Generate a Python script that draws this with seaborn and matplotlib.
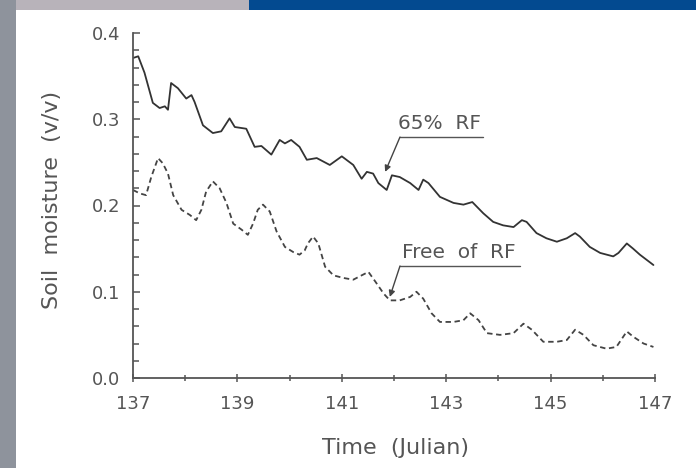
import numpy as np
import pandas as pd
import matplotlib
matplotlib.use("Agg")
import matplotlib.pyplot as plt
from matplotlib.patches import Rectangle
from matplotlib.ticker import MultipleLocator
import seaborn as sns

# ---- data ----
rf65_day = [137.00, 137.10, 137.22, 137.38, 137.51, 137.61, 137.67, 137.73, 137.86, 138.02,
            138.12, 138.18, 138.34, 138.53, 138.69, 138.85, 138.95, 139.17, 139.33, 139.46,
            139.65, 139.81, 139.91, 140.03, 140.19, 140.33, 140.52, 140.77, 141.00, 141.22,
            141.38, 141.48, 141.60, 141.70, 141.86, 141.96, 142.11, 142.31, 142.47, 142.56,
            142.66, 142.88, 143.14, 143.33, 143.50, 143.71, 143.90, 144.09, 144.29, 144.45,
            144.54, 144.73, 144.92, 145.12, 145.31, 145.47, 145.56, 145.75, 145.95, 146.20,
            146.30, 146.46, 146.58, 146.71, 146.84, 146.97]
rf65_val = [0.371, 0.373, 0.354, 0.319, 0.313, 0.315, 0.311, 0.342, 0.336, 0.324,
            0.328, 0.320, 0.293, 0.284, 0.286, 0.301, 0.291, 0.289, 0.268, 0.269,
            0.259, 0.276, 0.272, 0.276, 0.268, 0.253, 0.255, 0.247, 0.257, 0.247,
            0.231, 0.239, 0.237, 0.226, 0.218, 0.235, 0.233, 0.226, 0.218, 0.230,
            0.226, 0.210, 0.203, 0.201, 0.204, 0.191, 0.181, 0.177, 0.175, 0.183,
            0.181, 0.168, 0.162, 0.158, 0.162, 0.168, 0.164, 0.152, 0.145, 0.141,
            0.145, 0.156, 0.150, 0.143, 0.137, 0.131]

free_day = [137.00, 137.13, 137.25, 137.35, 137.48, 137.57, 137.67, 137.77, 137.93, 138.09,
            138.21, 138.31, 138.40, 138.53, 138.66, 138.79, 138.92, 139.08, 139.20, 139.30,
            139.39, 139.49, 139.62, 139.75, 139.91, 140.07, 140.19, 140.29, 140.35, 140.45,
            140.55, 140.68, 140.84, 141.03, 141.22, 141.38, 141.51, 141.64, 141.80, 141.92,
            142.11, 142.31, 142.43, 142.56, 142.72, 142.88, 143.14, 143.33, 143.46, 143.62,
            143.78, 144.03, 144.29, 144.48, 144.64, 144.86, 145.12, 145.31, 145.47, 145.63,
            145.82, 146.07, 146.26, 146.46, 146.58, 146.78, 146.97]
free_val = [0.218, 0.214, 0.212, 0.233, 0.255, 0.249, 0.237, 0.212, 0.195, 0.189,
            0.183, 0.195, 0.216, 0.228, 0.220, 0.203, 0.179, 0.172, 0.166, 0.179,
            0.195, 0.201, 0.193, 0.170, 0.152, 0.146, 0.143, 0.148, 0.156, 0.164,
            0.156, 0.129, 0.119, 0.116, 0.114, 0.119, 0.123, 0.112, 0.098, 0.090,
            0.090, 0.094, 0.100, 0.092, 0.075, 0.065, 0.065, 0.067, 0.075, 0.067,
            0.052, 0.050, 0.052, 0.063, 0.056, 0.042, 0.042, 0.044, 0.056, 0.050,
            0.038, 0.034, 0.036, 0.054, 0.048, 0.040, 0.036]

x_ticks = [137, 139, 141, 143, 145, 147]
y_ticks = [0.0, 0.1, 0.2, 0.3, 0.4]
x_label = "Time  (Julian)"
y_label = "Soil  moisture  (v/v)"
label_rf = "65%  RF"
label_free = "Free  of  RF"

# ---- figure ----
sns.set_theme(style="white")
plt.rcParams['font.family'] = ['DejaVu Sans']

fig = plt.figure(figsize=(6.96, 4.68), dpi=100)
fig.patch.set_facecolor("white")
ax = fig.add_axes([133/696, 1-378/468, 522/696, 345/468])
ax.set_facecolor("white")

df_rf = pd.DataFrame({"day": rf65_day, "val": rf65_val})
df_free = pd.DataFrame({"day": free_day, "val": free_val})

sns.lineplot(data=df_rf, x="day", y="val", ax=ax, color="#333333", lw=1.3,
             estimator=None, sort=False)
sns.lineplot(data=df_free, x="day", y="val", ax=ax, color="#444444", lw=1.3,
             estimator=None, sort=False, dashes=False)
ax.lines[-1].set_dashes((3, 2))

ax.set_xlim(137, 147)
ax.set_ylim(0.0, 0.4)
ax.set_xticks(x_ticks)
ax.set_xticklabels([str(t) for t in x_ticks])
ax.set_yticks(y_ticks)
ax.set_yticklabels([f"{t:.1f}" for t in y_ticks])
ax.xaxis.set_minor_locator(MultipleLocator(1))
ax.yaxis.set_minor_locator(MultipleLocator(0.02))

for s in ["top", "right"]:
    ax.spines[s].set_visible(False)
for s in ["left", "bottom"]:
    ax.spines[s].set_color("#555555")
    ax.spines[s].set_linewidth(1.3)

ax.tick_params(axis="x", which="both", direction="inout", length=6, width=1.1,
               color="#555555", labelsize=13, labelcolor="#555555", pad=9,
               bottom=True)
ax.tick_params(axis="x", which="minor", length=5)
ax.tick_params(axis="y", which="both", direction="in", length=5, width=1.1,
               color="#555555", labelsize=13, labelcolor="#555555", pad=9,
               left=True)
ax.tick_params(axis="y", which="minor", length=4)

ax.set_xlabel(x_label, fontsize=16, color="#555555")
ax.set_ylabel(y_label, fontsize=16, color="#555555")
ax.xaxis.label.set_va("center")
ax.yaxis.label.set_va("center")
ax.xaxis.set_label_coords((396-133)/522, (378-448)/345)
ax.yaxis.set_label_coords((52-133)/522, (378-200)/345)

# annotations
arrow = dict(arrowstyle="-|>", lw=1.0, color="#444444", mutation_scale=9,
             shrinkA=0, shrinkB=0)
ax.annotate("", xy=(141.83, 0.239), xytext=(142.115, 0.2794), arrowprops=arrow)
ax.plot([142.115, 143.705], [0.2794, 0.2794], color="#555555", lw=1.0)
ax.text(142.08, 0.2845, label_rf, fontsize=14.5, color="#555555", va="bottom", ha="left")

ax.annotate("", xy=(141.92, 0.094), xytext=(142.115, 0.1299), arrowprops=arrow)
ax.plot([142.115, 144.41], [0.1299, 0.1299], color="#555555", lw=1.0)
ax.text(142.15, 0.135, label_free, fontsize=14.5, color="#555555", va="bottom", ha="left")

# slide frame decorations (photo background)
W, H = 696, 468
fig.add_artist(Rectangle((0, 0), 16/W, 1, transform=fig.transFigure,
                         facecolor="#8e939c", edgecolor="none", zorder=5))
fig.add_artist(Rectangle((16/W, 1-10/H), (249-16)/W, 10/H, transform=fig.transFigure,
                         facecolor="#b8b3ba", edgecolor="none", zorder=5))
fig.add_artist(Rectangle((249/W, 1-10/H), (W-249)/W, 10/H, transform=fig.transFigure,
                         facecolor="#034a90", edgecolor="none", zorder=5))

fig.savefig("out.png", dpi=100, facecolor="white")
